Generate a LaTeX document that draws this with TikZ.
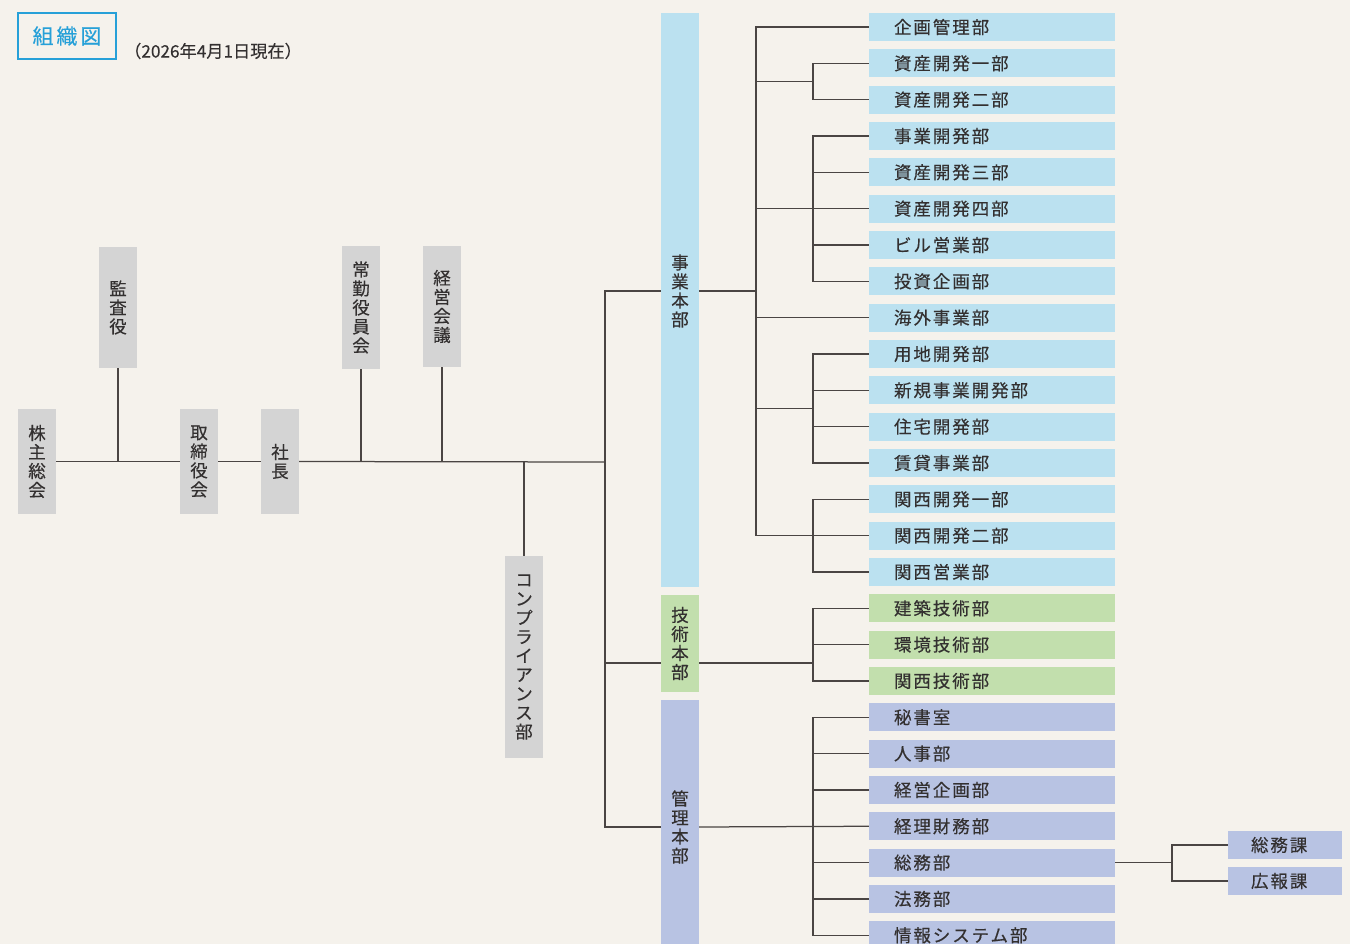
\documentclass[tikz,border=0pt]{standalone}
\usepackage{fontspec}
\newfontfamily\jp[LetterSpace=11,FakeBold=0.35]{Noto Sans CJK JP}
\newfontfamily\jpv[FakeBold=0.35]{Noto Sans CJK JP}
\newfontfamily\jpt[LetterSpace=14,FakeBold=0.3]{Noto Sans CJK JP}
\definecolor{bg}{HTML}{F5F2EC}
\definecolor{gbox}{HTML}{D4D4D4}
\definecolor{bbox}{HTML}{BBE1F0}
\definecolor{grbox}{HTML}{C2DFAD}
\definecolor{pbox}{HTML}{B8C3E3}
\definecolor{ln}{HTML}{4A4543}
\definecolor{tx}{HTML}{333030}
\definecolor{ttl}{HTML}{26A0D8}
\tikzset{
  vbox/.style={fill=gbox, minimum width=38pt, inner sep=0pt, text=tx, align=center,
    font=\jpv\fontsize{17.5}{19}\selectfont},
  dept/.style={fill=#1, minimum width=246pt, minimum height=28pt, inner sep=0pt,
    text width=246pt, align=left, text=tx, font=\jp\fontsize{17.5}{19}\selectfont},
  sect/.style={fill=pbox, minimum width=114pt, minimum height=28pt, inner sep=0pt,
    text width=114pt, align=left, text=tx, font=\jp\fontsize{17.5}{19}\selectfont},
  conn/.style={draw=ln, line width=1.25pt},
  vtext/.style={text=tx, align=center, inner sep=0pt, font=\jpv\fontsize{17.5}{19}\selectfont}
}
\begin{document}
\begin{tikzpicture}[x=1pt,y=-1pt]
\clip (0,0) rectangle (1350,944);
\fill[bg] (0,0) rectangle (1350,944);

% title
\node[draw=ttl, line width=1.2pt, fill=bg, minimum width=98pt, minimum height=46pt, inner sep=0pt,
  text=ttl, font=\jpt\fontsize{21}{22}\selectfont] (title) at (67,36) {組織図};
\node[anchor=west, inner sep=0pt, text=tx, font=\jpv\fontsize{17.2}{18}\selectfont] (date) at (124,51) {（2026年4月1日現在）};

% left boxes
\node[vbox, minimum height=105pt] (kabu) at (37,461.5) {株\\主\\総\\会};
\node[vbox, minimum height=121pt] (kansa) at (118,307.5) {監\\査\\役};
\node[vbox, minimum height=105pt] (tori) at (199,461.5) {取\\締\\役\\会};
\node[vbox, minimum height=105pt] (sha) at (280,461.5) {社\\長};
\node[vbox, minimum height=123pt] (joukin) at (361,307.5) {常\\勤\\役\\員\\会};
\node[vbox, minimum height=121pt] (keiei) at (442,306.5) {経\\営\\会\\議};
\node[vbox, minimum height=202pt] (comp) at (524,657) {コ\\ン\\プ\\ラ\\イ\\ア\\ン\\ス\\部};

% headquarters
\node[fill=bbox, minimum width=38pt, minimum height=574pt, inner sep=0pt] (jigyo) at (680,300) {};
\node[vtext] (jigyot) at (680,291) {事\\業\\本\\部};
\node[vbox, fill=grbox, minimum height=97pt] (gijutsu) at (680,643.5) {技\\術\\本\\部};
\node[fill=pbox, minimum width=38pt, minimum height=260pt, inner sep=0pt] (kanri) at (680,830) {};
\node[vtext] (kanrit) at (680,827) {管\\理\\本\\部};

% departments
\foreach \t/\c [count=\i from 0] in {
  企画管理部/bbox, 資産開発一部/bbox, 資産開発二部/bbox, 事業開発部/bbox,
  資産開発三部/bbox, 資産開発四部/bbox, ビル営業部/bbox, 投資企画部/bbox,
  海外事業部/bbox, 用地開発部/bbox, 新規事業開発部/bbox, 住宅開発部/bbox,
  賃貸事業部/bbox, 関西開発一部/bbox, 関西開発二部/bbox, 関西営業部/bbox,
  建築技術部/grbox, 環境技術部/grbox, 関西技術部/grbox,
  秘書室/pbox, 人事部/pbox, 経営企画部/pbox, 経理財務部/pbox, 総務部/pbox,
  法務部/pbox, 情報システム部/pbox}
  \node[dept=\c] (d\i) at (992,{27+36.33*\i}) {\hspace*{25pt}\t};

\node[sect] (soumuka) at (1285,845) {\hspace*{23pt}総務課};
\node[sect] (kouhouka) at (1285,881) {\hspace*{23pt}広報課};

% coordinates
\coordinate (bus) at (605,462);
\coordinate (tr) at (756,0);
\coordinate (st) at (813,0);
\coordinate (st2) at (1172,0);
\coordinate (yg) at (0,663);
\coordinate (y12) at (0,81.5);
\coordinate (y1011) at (0,408.5);

% left connectors
\draw[conn] (kabu.east) -- (tori.west);
\draw[conn] (tori.east) -- (sha.west);
\draw[conn] (sha.east) -- (bus);
\draw[conn] (kansa.south) -- (kansa.south |- bus);
\draw[conn] (joukin.south) -- (joukin.south |- bus);
\draw[conn] (keiei.south) -- (keiei.south |- bus);
\draw[conn] (comp.north |- bus) -- (comp.north);
\draw[conn] (jigyo.west |- jigyot) -| (bus |- kanrit) -- (kanri.west |- kanrit);
\draw[conn] (bus |- yg) -- (gijutsu.west |- yg);

% jigyo tree
\draw[conn] (jigyo.east |- jigyot) -- (tr |- jigyot);
\draw[conn] (d0.west) -| (tr |- d14.west) -- (d14.west);
\draw[conn] (tr |- y12) -- (st |- y12);
\draw[conn] (d1.west) -| (st |- d2.west) -- (d2.west);
\draw[conn] (d3.west) -| (st |- d7.west) -- (d7.west);
\draw[conn] (tr |- d5.west) -- (d5.west);
\foreach \i in {4,6} \draw[conn] (st |- d\i.west) -- (d\i.west);
\draw[conn] (tr |- d8.west) -- (d8.west);
\draw[conn] (d9.west) -| (st |- d12.west) -- (d12.west);
\foreach \i in {10,11} \draw[conn] (st |- d\i.west) -- (d\i.west);
\draw[conn] (tr |- y1011) -- (st |- y1011);
\draw[conn] (d13.west) -| (st |- d15.west) -- (d15.west);

% gijutsu tree
\draw[conn] (gijutsu.east |- yg) -- (st |- yg);
\draw[conn] (d16.west) -| (st |- d18.west) -- (d18.west);
\draw[conn] (st |- d17.west) -- (d17.west);

% kanri tree
\draw[conn] (kanri.east |- kanrit) -- (d22.west);
\draw[conn] (d19.west) -| (st |- d25.west) -- (d25.west);
\foreach \i in {20,21,23,24} \draw[conn] (st |- d\i.west) -- (d\i.west);

% soumu
\draw[conn] (d23.east) -- (st2 |- d23.east);
\draw[conn] (soumuka.west) -| (st2 |- kouhouka.west) -- (kouhouka.west);
\end{tikzpicture}
\end{document}
